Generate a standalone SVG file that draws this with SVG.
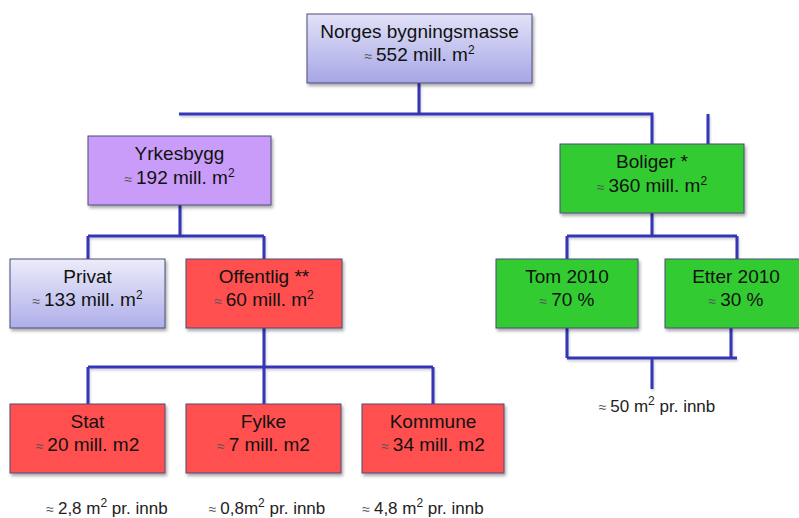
<svg xmlns="http://www.w3.org/2000/svg" width="799" height="518" viewBox="0 0 799 518">
<defs>
<linearGradient id="gTop" x1="0" y1="0" x2="0" y2="1"><stop offset="0" stop-color="#e2e2f8"/><stop offset="1" stop-color="#a6a6e6"/></linearGradient>
<linearGradient id="gPriv" x1="0" y1="0" x2="0" y2="1"><stop offset="0" stop-color="#ececfa"/><stop offset="1" stop-color="#aeaeea"/></linearGradient>
<filter id="sh" x="-10%" y="-10%" width="125%" height="130%"><feDropShadow dx="1.5" dy="2.5" stdDeviation="1.5" flood-color="#000" flood-opacity="0.35"/></filter>
<filter id="lsh" x="-5%" y="-50%" width="110%" height="200%"><feDropShadow dx="1" dy="2" stdDeviation="1" flood-color="#000" flood-opacity="0.18"/></filter>
</defs>
<style>
.box{stroke:#4d4d7a;stroke-width:1;filter:url(#sh)}
.t{font-family:"Liberation Sans",Arial,sans-serif;font-size:19px;fill:#111;text-anchor:middle}
.s{font-family:"Liberation Sans",Arial,sans-serif;font-size:17px;fill:#222;text-anchor:middle}
.ap{font-size:14px;fill:#555}
.sup{font-size:12px}
.c{fill:none;stroke:#3535b8;stroke-width:3;filter:url(#lsh)}
</style>
<rect width="799" height="518" fill="#fff"/>
<g id="connectors">
<path class="c" d="M419 83V114M179 114H652V144M708 114V144"/>
<path class="c" d="M180 205V236M88 236H264M88 236V259M264 236V259"/>
<path class="c" d="M264 328V404M88 367H433M88 367V404M433 367V404"/>
<path class="c" d="M652 213V236M567 236H737M567 236V259M737 236V259"/>
<path class="c" d="M567 328V358M731 328V358M567 358H737M652 358V389"/>
</g>
<g id="n_norges">
<rect class="box" x="307" y="14" width="225" height="69" fill="url(#gTop)"/>
<text class="t" x="419.5" y="38">Norges bygningsmasse</text>
<text class="t" x="419.5" y="61"><tspan class="ap">≈  </tspan>552 mill. m<tspan class="sup" dy="-7">2</tspan></text>
</g>
<g id="n_yrkesbygg">
<rect class="box" x="88" y="136" width="183" height="69" fill="#c89cf8"/>
<text class="t" x="179.5" y="160">Yrkesbygg</text>
<text class="t" x="179.5" y="184"><tspan class="ap">≈  </tspan>192 mill. m<tspan class="sup" dy="-7">2</tspan></text>
</g>
<g id="n_boliger">
<rect class="box" x="560" y="144" width="184" height="69" fill="#33cc33"/>
<text class="t" x="652" y="168">Boliger *</text>
<text class="t" x="652" y="192"><tspan class="ap">≈  </tspan>360 mill. m<tspan class="sup" dy="-7">2</tspan></text>
</g>
<g id="n_privat">
<rect class="box" x="10" y="259" width="155" height="69" fill="url(#gPriv)"/>
<text class="t" x="87.5" y="283">Privat</text>
<text class="t" x="87.5" y="306"><tspan class="ap">≈  </tspan>133 mill. m<tspan class="sup" dy="-7">2</tspan></text>
</g>
<g id="n_offentlig">
<rect class="box" x="186" y="259" width="156" height="69" fill="#ff5050"/>
<text class="t" x="264" y="283">Offentlig **</text>
<text class="t" x="264" y="306"><tspan class="ap">≈  </tspan>60 mill. m<tspan class="sup" dy="-7">2</tspan></text>
</g>
<g id="n_tom">
<rect class="box" x="496" y="259" width="142" height="69" fill="#33cc33"/>
<text class="t" x="567" y="283">Tom 2010</text>
<text class="t" x="567" y="306"><tspan class="ap">≈ </tspan>70 %</text>
</g>
<g id="n_etter">
<rect class="box" x="665" y="259" width="140" height="69" fill="#33cc33"/>
<text class="t" x="736" y="283">Etter 2010</text>
<text class="t" x="736" y="306"><tspan class="ap">≈ </tspan>30 %</text>
</g>
<g id="n_stat">
<rect class="box" x="10" y="404" width="155" height="69" fill="#ff5050"/>
<text class="t" x="87.5" y="428">Stat</text>
<text class="t" x="87.5" y="451"><tspan class="ap">≈ </tspan>20 mill. m2</text>
</g>
<g id="n_fylke">
<rect class="box" x="186" y="404" width="155" height="69" fill="#ff5050"/>
<text class="t" x="263.5" y="428">Fylke</text>
<text class="t" x="263.5" y="451"><tspan class="ap">≈ </tspan>7 mill. m2</text>
</g>
<g id="n_kommune">
<rect class="box" x="362" y="404" width="142" height="69" fill="#ff5050"/>
<text class="t" x="433" y="428">Kommune</text>
<text class="t" x="433" y="451"><tspan class="ap">≈ </tspan>34 mill. m2</text>
</g>
<g id="labels">
<text class="s" x="657" y="412"><tspan class="ap">≈ </tspan>50 m<tspan class="sup" dy="-7">2</tspan><tspan dy="7"> pr. innb</tspan></text>
<text class="s" x="107" y="514"><tspan class="ap">≈ </tspan>2,8 m<tspan class="sup" dy="-7">2</tspan><tspan dy="7"> pr. innb</tspan></text>
<text class="s" x="267" y="514"><tspan class="ap">≈ </tspan>0,8m<tspan class="sup" dy="-7">2</tspan><tspan dy="7"> pr. innb</tspan></text>
<text class="s" x="423" y="514"><tspan class="ap">≈ </tspan>4,8 m<tspan class="sup" dy="-7">2</tspan><tspan dy="7"> pr. innb</tspan></text>
</g>
</svg>
